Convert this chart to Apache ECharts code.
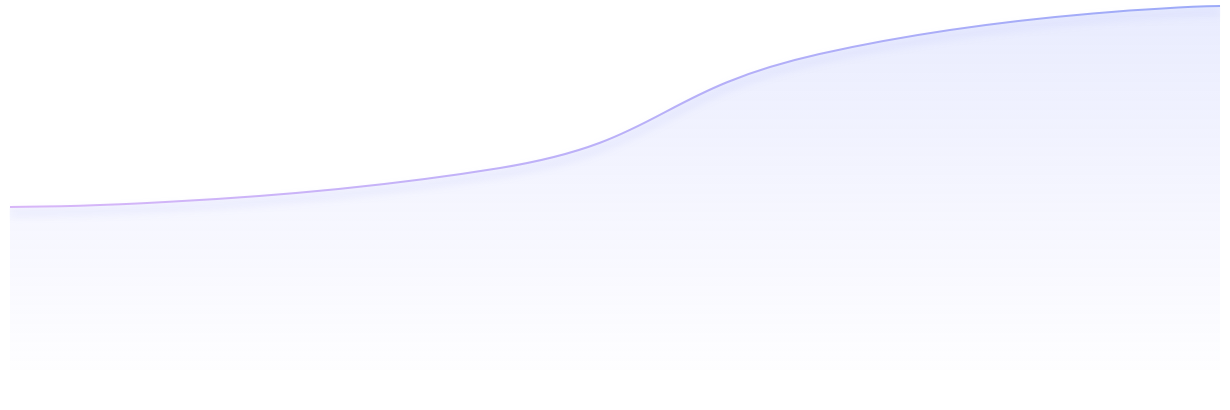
<!DOCTYPE html>
<html>
<head>
<meta charset="utf-8">
<script src="https://cdn.jsdelivr.net/npm/echarts@6/dist/echarts.min.js"></script>
<style>html,body{margin:0;padding:0;background:#fff;}#c{width:1230px;height:410px;}</style>
</head>
<body>
<div id="c"></div>
<script>
// x positions (0–100 along the horizontal extent) and values (0–100)
const xs = [0, 40.5, 66.9, 100];
const values = [44.8, 55.5, 86.8, 100];

const data = xs.map((x, i) => [x, values[i]]);

const chart = echarts.init(document.getElementById('c'));
chart.setOption({
  animation: false,
  grid: { left: 10, right: 10, top: 6, bottom: 40 },
  xAxis: { type: 'value', min: 0, max: 100, show: false },
  yAxis: { type: 'value', min: 0, max: 100, show: false },
  series: [{
    type: 'line',
    data: data,
    smooth: true,
    showSymbol: false,
    lineStyle: {
      width: 2,
      color: new echarts.graphic.LinearGradient(0, 0, 1, 0, [
        { offset: 0, color: '#d8b6f8' },
        { offset: 1, color: '#9caaf8' }
      ]),
      shadowColor: 'rgba(110,120,240,0.3)',
      shadowBlur: 8,
      shadowOffsetY: 6
    },
    areaStyle: {
      color: new echarts.graphic.LinearGradient(0, 0, 0, 1, [
        { offset: 0, color: 'rgba(120,140,250,0.24)' },
        { offset: 1, color: 'rgba(150,150,250,0.02)' }
      ])
    }
  }]
});
</script>
</body>
</html>
